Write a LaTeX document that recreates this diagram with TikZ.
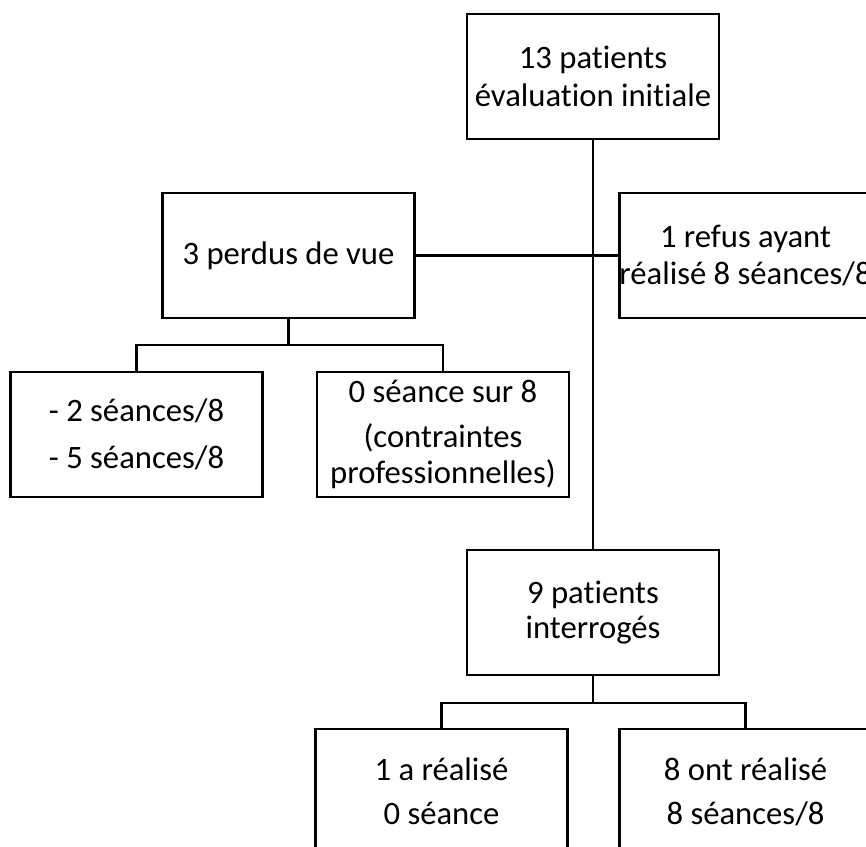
\documentclass[tikz,border=0pt]{standalone}
\usepackage{fontspec}
\setmainfont{Carlito}[Ligatures=NoCommon]

\begin{document}
\begin{tikzpicture}[x=0.02cm, y=-0.02cm, line width=1.4pt,
box/.style = {draw, align=center, minimum width=5.04cm, minimum height=2.5cm,
  inner sep=0pt, font=\fontsize{18.6}{21.5}\selectfont}]
\useasboundingbox (0,0) rectangle (866,847);
\node[box] (debut) at (593,76.5) {13 patients\\évaluation initiale};
\node[box] (perdus) at (288.5,255.5) {3 perdus de vue};
\node[box] (refus) at (745.5,255.5) {1 refus ayant\\réalisé 8 séances/8};
\node[box] (partiel) at (136.5,434.5) {- 2 séances/8\\[5pt]- 5 séances/8};
\node[box] (aucune) at (443,434.5) {0 séance sur 8\\[4.5pt](contraintes\\[-1pt]professionnelles)};
\node[box] (interro) at (593,612.5) {9 patients\\[-1.5pt]interrogés};
\node[box] (zero) at (441.5,791.5) {1 a réalisé\\[3.5pt]0 séance};
\node[box] (complet) at (745.5,791.5) {8 ont réalisé\\[3.5pt]8 séances/8};
\draw (debut) -- (interro);
\draw (perdus) -- (refus);
\draw (perdus.south) -- ++(0,26) coordinate (pj);
\draw (partiel.north) |- (pj) -| (aucune.north);
\draw (interro.south) -- ++(0,27) coordinate (ij);
\draw (zero.north) |- (ij) -| (complet.north);
\end{tikzpicture}
\end{document}
